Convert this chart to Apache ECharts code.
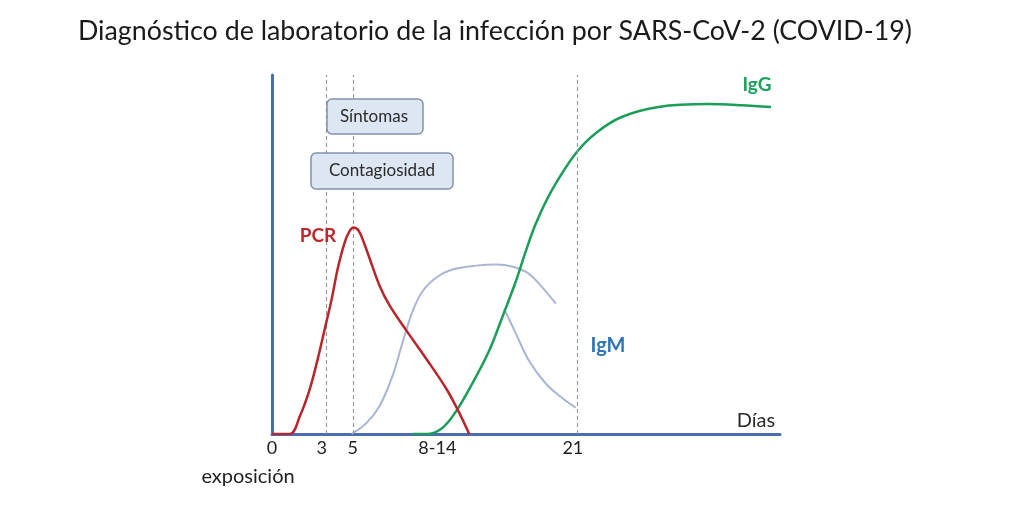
<!DOCTYPE html>
<html><head><meta charset="utf-8">
<script src="https://cdn.jsdelivr.net/npm/echarts@6/dist/echarts.min.js"></script>
<style>html,body{margin:0;padding:0;background:#fff}#c{width:1022px;height:511px}</style>
</head><body><div id="c"></div>
<script>
// x values are schematic positions along the day axis (the original is not to scale)
const tickPositions = [0, 5.0, 8.1, 16.6, 30.2];
const tickLabels = ['0', '3', '5', '8-14', '21'];
const dashedPositions = [5.4, 8.2, 30.6];

const pcr = [[0,0],[1.8,0],[2.8,5.0],[3.8,12.6],[4.6,21.0],[5.3,29.3],[6.0,37.7],[6.6,46.1],[7.3,53.4],[7.8,56.6],[8.2,57.5],[8.7,56.6],[9.2,53.5],[9.8,48.9],[10.8,41.3],[11.8,35.8],[13.5,28.8],[15.5,20.9],[17.5,12.6],[18.8,5.9],[19.8,0]];
const igmRise = [[8.0,0],[9.5,3.1],[10.8,7.8],[12.1,16.2],[13.1,25.4],[14.1,34.1],[15.1,39.7],[16.5,43.6],[18.1,45.8],[20.5,46.9],[22.5,47.2],[24.2,46.6],[25.6,45.0],[26.8,41.9],[28.5,36.3]];
const igmFall = [[23.3,34.9],[24.5,27.9],[25.8,20.4],[27.5,14.0],[29.1,10.1],[30.5,7.3]];
const igg = [[14.1,0],[15.5,0],[17.1,1.7],[18.5,6.4],[20.1,14.0],[21.8,23.2],[23.1,32.4],[24.5,42.7],[25.5,51.1],[26.5,58.7],[28.1,67.9],[30.5,78.2],[32.5,83.8],[35.1,88.3],[38.8,91.1],[43.8,91.9],[47.1,91.6],[50.1,91.1]];

const FONT = 'Lato';
const chart = echarts.init(document.getElementById('c'), null, {renderer:'canvas'});
chart.setOption({
  animation:false,
  backgroundColor:'#fff',
  title:{text:'Diagnóstico de laboratorio de la infección por SARS-CoV-2 (COVID-19)', left:73, top:13,
    textStyle:{fontFamily:FONT, fontSize:26.8, fontWeight:'normal', color:'#1a1a1a'}},
  grid:{left:272, right:242, top:75, bottom:77},
  xAxis:{type:'value', min:0, max:51,
    axisLine:{show:true, onZero:false, lineStyle:{color:'#4a6db0', width:3}},
    axisTick:{show:false}, splitLine:{show:false},
    axisLabel:{customValues:tickPositions, margin:5, fontFamily:FONT, fontSize:18, color:'#1e1e1e',
      formatter:(v)=>{const i=tickPositions.indexOf(v);return i>=0?tickLabels[i]:'';}}},
  yAxis:{type:'value', min:0, max:100,
    axisLine:{show:true, lineStyle:{color:'#4a6db0', width:3}},
    axisTick:{show:false}, splitLine:{show:false}, axisLabel:{show:false}},
  series:[
    {type:'line', name:'PCR', data:pcr, smooth:0.35, symbol:'none', z:5,
      lineStyle:{color:'#b8262c', width:2.5},
      markLine:{silent:true, symbol:'none', label:{show:false},
        lineStyle:{color:'#9a9a9a', type:[4,3], width:1.2},
        data:dashedPositions.map(v=>({xAxis:v}))}},
    {type:'line', name:'IgM', data:igmRise, smooth:0.35, symbol:'none', z:3,
      lineStyle:{color:'#a9b5d2', width:2}},
    {type:'line', name:'IgM2', data:igmFall, smooth:0.35, symbol:'none', z:3,
      lineStyle:{color:'#a9b5d2', width:2}},
    {type:'line', name:'IgG', data:igg, smooth:0.35, symbol:'none', z:4,
      lineStyle:{color:'#1b9e5a', width:2.5}}
  ],
  graphic:[
    {type:'rect', shape:{x:327, y:99, width:96, height:35, r:5}, z:10,
      style:{fill:'#dde7f3', stroke:'#7f93ad', lineWidth:1.5}},
    {type:'text', x:374, y:117, z:11, style:{text:'Síntomas', fontFamily:FONT, fontSize:17, fill:'#2a2a2a', align:'center', verticalAlign:'middle'}},
    {type:'rect', shape:{x:311, y:153, width:142, height:36, r:5}, z:10,
      style:{fill:'#dde7f3', stroke:'#7f93ad', lineWidth:1.5}},
    {type:'text', x:382, y:171, z:11, style:{text:'Contagiosidad', fontFamily:FONT, fontSize:17, fill:'#2a2a2a', align:'center', verticalAlign:'middle'}},
    {type:'text', x:318, y:236, z:11, style:{text:'PCR', fontFamily:FONT, fontSize:19, fontWeight:'bold', fill:'#c0282d', align:'center', verticalAlign:'middle'}},
    {type:'text', x:608, y:346, z:11, style:{text:'IgM', fontFamily:FONT, fontSize:20, fontWeight:'bold', fill:'#2e75b6', align:'center', verticalAlign:'middle'}},
    {type:'text', x:757, y:85, z:11, style:{text:'IgG', fontFamily:FONT, fontSize:19, fontWeight:'bold', fill:'#1fa05d', align:'center', verticalAlign:'middle'}},
    {type:'text', x:756, y:421, z:11, style:{text:'Días', fontFamily:FONT, fontSize:20, fill:'#2a2a2a', align:'center', verticalAlign:'middle'}},
    {type:'text', x:248, y:477, z:11, style:{text:'exposición', fontFamily:FONT, fontSize:20, fill:'#1e1e1e', align:'center', verticalAlign:'middle'}}
  ]
});
</script></body></html>
